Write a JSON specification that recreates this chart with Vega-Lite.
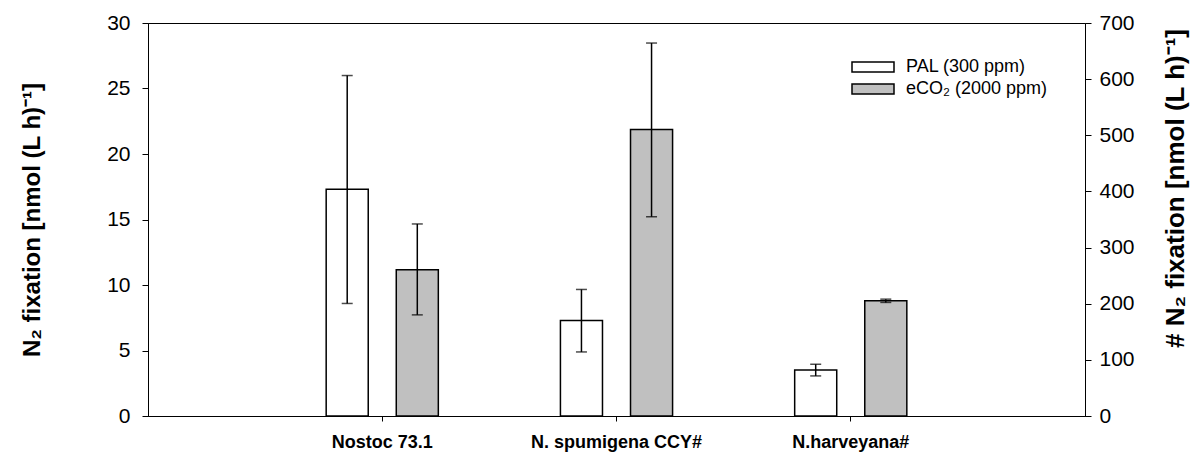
{
  "$schema": "https://vega.github.io/schema/vega-lite/v6.json",
  "width": 937,
  "height": 393,
  "autosize": {"type": "none"},
  "padding": {"left": 148, "top": 23, "right": 115, "bottom": 36},
  "background": "white",
  "config": {
    "font": "Liberation Sans",
    "view": {"stroke": "black", "strokeWidth": 1},
    "axis": {"grid": false, "domainColor": "black", "tickColor": "black", "labelColor": "black", "titleColor": "black", "domainWidth": 1, "tickWidth": 1}
  },
  "data": {
    "values": [
      {"strain": "Nostoc 73.1", "treatment": "PAL (300 ppm)", "value": 17.31, "lo": 8.59, "hi": 25.99},
      {"strain": "Nostoc 73.1", "treatment": "eCO₂ (2000 ppm)", "value": 11.16, "lo": 7.72, "hi": 14.66},
      {"strain": "N. spumigena CCY#", "treatment": "PAL (300 ppm)", "value": 7.29, "lo": 4.89, "hi": 9.66},
      {"strain": "N. spumigena CCY#", "treatment": "eCO₂ (2000 ppm)", "value": 21.87, "lo": 15.21, "hi": 28.47},
      {"strain": "N.harveyana#", "treatment": "PAL (300 ppm)", "value": 3.52, "lo": 3.06, "hi": 3.95},
      {"strain": "N.harveyana#", "treatment": "eCO₂ (2000 ppm)", "value": 8.79, "lo": 8.67, "hi": 8.92}
    ]
  },
  "layer": [
    {
      "encoding": {
        "x": {
          "field": "strain", "type": "nominal",
          "sort": ["Nostoc 73.1", "N. spumigena CCY#", "N.harveyana#"],
          "scale": {"paddingInner": 0, "paddingOuter": 0.5},
          "axis": {"title": null, "labelAngle": 0, "labelFont": "Liberation Sans", "labelFontWeight": "bold", "labelFontSize": 18, "labelPadding": 12, "tickSize": 5}
        },
        "xOffset": {
          "field": "treatment", "type": "nominal",
          "sort": ["PAL (300 ppm)", "eCO₂ (2000 ppm)"],
          "scale": {"paddingInner": 0.4, "paddingOuter": 0.871}
        }
      },
      "layer": [
        {
          "mark": {"type": "bar", "stroke": "black", "strokeWidth": 1.5},
          "encoding": {
            "y": {
              "field": "value", "type": "quantitative",
              "scale": {"domain": [0, 30], "nice": false},
              "axis": {"orient": "left", "values": [0, 5, 10, 15, 20, 25, 30], "title": "N₂ fixation [nmol (L h)⁻¹]", "titleFontSize": 24, "titleFontWeight": "bold", "titlePadding": 62, "labelFontSize": 21, "labelPadding": 12, "tickSize": 6}
            },
            "fill": {
              "field": "treatment", "type": "nominal",
              "sort": ["PAL (300 ppm)", "eCO₂ (2000 ppm)"],
              "scale": {"domain": ["PAL (300 ppm)", "eCO₂ (2000 ppm)"], "range": ["white", "#c0c0c0"]},
              "legend": {
                "title": null, "orient": "none", "legendX": 716, "legendY": 35,
                "symbolType": "M-4.2,-1H4.2V1H-4.2Z", "symbolSize": 100,
                "symbolStrokeColor": "black", "symbolStrokeWidth": 1.5,
                "labelFontSize": 18, "labelColor": "black", "labelOffset": 24, "rowPadding": 4, "padding": 0
              }
            }
          }
        },
        {
          "mark": {"type": "rule", "color": "black", "strokeWidth": 1.5},
          "encoding": {
            "y": {"field": "lo", "type": "quantitative"},
            "y2": {"field": "hi"}
          }
        },
        {
          "mark": {"type": "tick", "color": "black", "size": 11, "thickness": 1.5},
          "encoding": {"y": {"field": "lo", "type": "quantitative"}}
        },
        {
          "mark": {"type": "tick", "color": "black", "size": 11, "thickness": 1.5},
          "encoding": {"y": {"field": "hi", "type": "quantitative"}}
        }
      ]
    },
    {
      "mark": {"type": "rule", "opacity": 0},
      "encoding": {
        "y": {
          "field": "value", "type": "quantitative",
          "scale": {"domain": [0, 700], "nice": false},
          "axis": {"orient": "right", "values": [0, 100, 200, 300, 400, 500, 600, 700], "title": "# N₂ fixation [nmol (L h)⁻¹]", "titleAngle": 270, "titleFontSize": 26, "titleFontWeight": "bold", "titlePadding": 54, "titleY": 165, "labelFontSize": 21, "labelPadding": 8, "tickSize": 6}
        }
      }
    }
  ],
  "resolve": {"scale": {"y": "independent"}}
}
